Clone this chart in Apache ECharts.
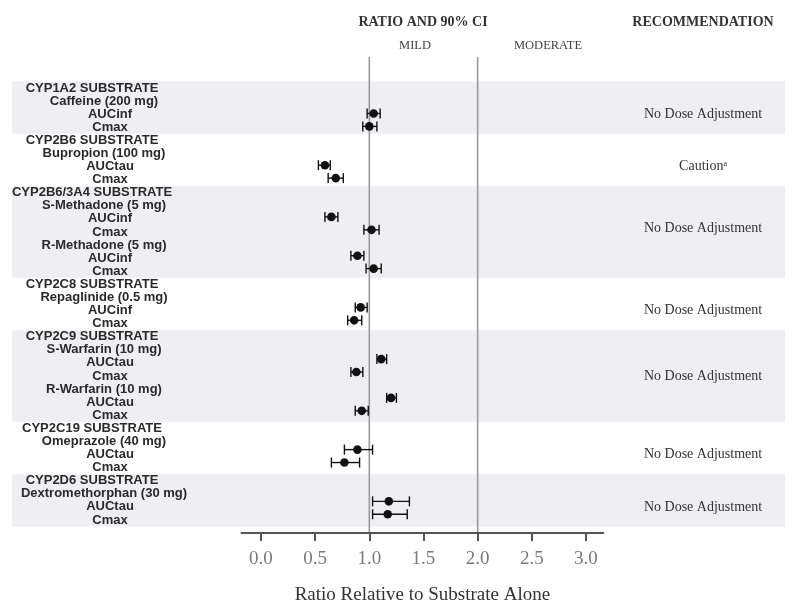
<!DOCTYPE html>
<html>
<head>
<meta charset="utf-8">
<script src="https://cdn.jsdelivr.net/npm/echarts@6/dist/echarts.min.js"></script>
<style>
  html, body { margin: 0; padding: 0; background: #fff; }
  #chart { width: 797px; height: 610px; }
</style>
</head>
<body>
<div id="chart"></div>
<script>
// Row labels, top to bottom
const rowLabels = [
  'CYP1A2 SUBSTRATE', 'Caffeine (200 mg)', 'AUCinf', 'Cmax',
  'CYP2B6 SUBSTRATE', 'Bupropion (100 mg)', 'AUCtau', 'Cmax',
  'CYP2B6/3A4 SUBSTRATE', 'S-Methadone (5 mg)', 'AUCinf', 'Cmax',
  'R-Methadone (5 mg)', 'AUCinf', 'Cmax',
  'CYP2C8 SUBSTRATE', 'Repaglinide (0.5 mg)', 'AUCinf', 'Cmax',
  'CYP2C9 SUBSTRATE', 'S-Warfarin (10 mg)', 'AUCtau', 'Cmax',
  'R-Warfarin (10 mg)', 'AUCtau', 'Cmax',
  'CYP2C19 SUBSTRATE', 'Omeprazole (40 mg)', 'AUCtau', 'Cmax',
  'CYP2D6 SUBSTRATE', 'Dextromethorphan (30 mg)', 'AUCtau', 'Cmax'
];

// PK parameter rows (index into rowLabels), ratio and 90% CI
const pkRows  = [2, 3, 6, 7, 10, 11, 13, 14, 17, 18, 21, 22, 24, 25, 28, 29, 32, 33];
const ratio   = [1.04, 1.00, 0.59, 0.69, 0.65, 1.02, 0.89, 1.04, 0.92, 0.86, 1.11, 0.88, 1.20, 0.93, 0.89, 0.77, 1.18, 1.17];
const ciLower = [0.98, 0.94, 0.53, 0.62, 0.59, 0.95, 0.83, 0.97, 0.87, 0.80, 1.07, 0.83, 1.16, 0.87, 0.77, 0.65, 1.03, 1.03];
const ciUpper = [1.10, 1.07, 0.64, 0.76, 0.71, 1.09, 0.95, 1.11, 0.98, 0.93, 1.16, 0.94, 1.25, 0.99, 1.03, 0.91, 1.37, 1.35];

// Shaded substrate groups (first row, last row)
const shadedStart = [0, 8, 19, 30];
const shadedEnd   = [3, 14, 25, 33];

// Recommendation column
const recText = ['No Dose Adjustment', 'Caution{sup|a}', 'No Dose Adjustment', 'No Dose Adjustment',
                 'No Dose Adjustment', 'No Dose Adjustment', 'No Dose Adjustment'];
const recRows = [2, 6, 10.7, 17, 22, 28, 32];

// Reference lines (mild / moderate boundaries)
const refLines = [1.0, 2.0];

// x-axis ticks
const xTicks = [0, 0.5, 1.0, 1.5, 2.0, 2.5, 3.0];

const SANS = "'Liberation Sans', Arial, sans-serif";
const SERIF = "'Liberation Serif', 'Times New Roman', serif";

function rowKind(label) {
  if (/SUBSTRATE$/.test(label)) return 'h';
  if (label === 'AUCinf' || label === 'AUCtau' || label === 'Cmax') return 'm';
  return 'd';
}

const labelFont = { fontFamily: SANS, fontWeight: 'bold', fontSize: 13, color: '#2a2a2a' };
const recFont = { fontFamily: SERIF, fontSize: 14, color: '#333' };

const chart = echarts.init(document.getElementById('chart'), null, { renderer: 'canvas' });

chart.setOption({
  animation: false,
  backgroundColor: '#ffffff',
  grid: [
    // main plot
    { left: 241.5, width: 361.8, top: 57, height: 482 },
    // full-width row layout (labels, shading, recommendations)
    { left: 12, right: 12, top: 81.455, height: 445.06 }
  ],
  xAxis: [
    {
      gridIndex: 0, type: 'value', position: 'bottom', min: -0.18, max: 3.16, z: 5,
      axisLine: { show: true, onZero: false, lineStyle: { color: '#555', width: 2 } },
      axisTick: { show: true, length: 8, lineStyle: { color: '#555', width: 2 }, customValues: xTicks },
      axisLabel: {
        customValues: xTicks, margin: 17,
        formatter: v => v.toFixed(1),
        fontFamily: SERIF, fontSize: 19, color: '#7a7a7a'
      },
      splitLine: { show: false },
      name: 'Ratio Relative to Substrate Alone',
      nameLocation: 'middle', nameGap: 53,
      nameTextStyle: { fontFamily: SERIF, fontSize: 19, color: '#333' }
    },
    { gridIndex: 1, type: 'value', min: 0, max: 1, show: false }
  ],
  yAxis: [
    { gridIndex: 0, type: 'value', inverse: true, min: -2.368, max: 34.45, show: false },
    {
      gridIndex: 1, type: 'category', inverse: true, data: rowLabels, z: 5,
      axisLine: { show: false }, axisTick: { show: false }, splitLine: { show: false },
      axisLabel: {
        inside: true, align: 'center', margin: 92, interval: 0,
        ...labelFont,
        formatter: v => '{' + rowKind(v) + '|' + v + '}',
        rich: {
          h: { ...labelFont, padding: [0, 24, 0, 0] },
          d: { ...labelFont },
          m: { ...labelFont, padding: [0, 0, 0, 12] }
        }
      }
    },
    { gridIndex: 1, type: 'value', inverse: true, min: -0.5, max: 33.5, show: false }
  ],
  graphic: [
    { type: 'text', x: 423, y: 22, style: { text: 'RATIO AND 90% CI', align: 'center', verticalAlign: 'middle', fontFamily: SERIF, fontWeight: 'bold', fontSize: 14, fill: '#333' } },
    { type: 'text', x: 703, y: 22, style: { text: 'RECOMMENDATION', align: 'center', verticalAlign: 'middle', fontFamily: SERIF, fontWeight: 'bold', fontSize: 14, fill: '#333' } },
    { type: 'text', x: 415, y: 46, style: { text: 'MILD', align: 'center', verticalAlign: 'middle', fontFamily: SERIF, fontSize: 12.5, fill: '#444' } },
    { type: 'text', x: 548, y: 46, style: { text: 'MODERATE', align: 'center', verticalAlign: 'middle', fontFamily: SERIF, fontSize: 12.5, fill: '#444' } }
  ],
  series: [
    {
      // alternating group shading
      type: 'custom', xAxisIndex: 1, yAxisIndex: 2, z: 1, silent: true,
      data: shadedStart.map((s, i) => [s, shadedEnd[i]]),
      encode: { y: [0, 1] },
      renderItem: (params, api) => {
        const cs = params.coordSys;
        const y0 = api.coord([0, api.value(0) - 0.5])[1];
        const y1 = api.coord([0, api.value(1) + 0.5])[1];
        return { type: 'rect', shape: { x: cs.x, y: y0, width: cs.width, height: y1 - y0 }, style: { fill: '#efeef2' } };
      }
    },
    {
      // vertical boundary lines at 1.0 and 2.0
      type: 'custom', xAxisIndex: 0, yAxisIndex: 0, z: 2, silent: true,
      data: refLines.map(v => [v]),
      encode: { x: 0 },
      renderItem: (params, api) => {
        const cs = params.coordSys;
        const x = api.coord([api.value(0), 0])[0];
        return { type: 'line', shape: { x1: x, y1: cs.y, x2: x, y2: cs.y + cs.height }, style: { stroke: '#9a9a9a', lineWidth: 1.6 } };
      }
    },
    {
      // ratio with 90% CI
      type: 'custom', xAxisIndex: 0, yAxisIndex: 0, z: 3,
      data: pkRows.map((r, i) => [ratio[i], ciLower[i], ciUpper[i], r]),
      encode: { x: [0, 1, 2], y: 3 },
      renderItem: (params, api) => {
        const row = api.value(3);
        const p = api.coord([api.value(0), row]);
        const lo = api.coord([api.value(1), row])[0];
        const hi = api.coord([api.value(2), row])[0];
        const y = p[1];
        const cap = 5;
        const stroke = { stroke: '#111', lineWidth: 1.4 };
        return {
          type: 'group',
          children: [
            { type: 'line', shape: { x1: lo, y1: y, x2: hi, y2: y }, style: stroke },
            { type: 'line', shape: { x1: lo, y1: y - cap, x2: lo, y2: y + cap }, style: stroke },
            { type: 'line', shape: { x1: hi, y1: y - cap, x2: hi, y2: y + cap }, style: stroke },
            { type: 'circle', shape: { cx: p[0], cy: y, r: 4.3 }, style: { fill: '#111' } }
          ]
        };
      }
    },
    {
      // recommendation text, placed on the row layout
      type: 'custom', xAxisIndex: 1, yAxisIndex: 2, z: 4, silent: true,
      data: recRows.map((r, i) => [0.894, r]),
      encode: { x: 0, y: 1 },
      renderItem: (params, api) => {
        const p = api.coord([api.value(0), api.value(1)]);
        return {
          type: 'text', x: p[0], y: p[1],
          style: {
            text: recText[params.dataIndex], align: 'center', verticalAlign: 'middle',
            fontFamily: recFont.fontFamily, fontSize: recFont.fontSize, fill: recFont.color,
            rich: { sup: { fontFamily: SERIF, fontSize: 8, fill: '#333', verticalAlign: 'top', padding: [0, 0, 6, 0] } }
          }
        };
      }
    }
  ]
});
</script>
</body>
</html>
